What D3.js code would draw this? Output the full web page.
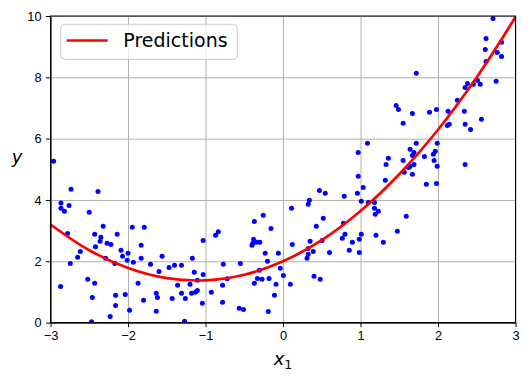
<!DOCTYPE html>
<html>
<head>
<meta charset="utf-8">
<script src="https://cdn.jsdelivr.net/npm/d3@7"></script>
<style>
    body { margin: 0; background: #fff; }
    svg { font-family: "DejaVu Sans", sans-serif; }
    .grid line { stroke: #b0b0b0; stroke-width: 1; }
    .grid .domain { display: none; }
    .axis text { font-size: 12.8px; fill: #000; }
    .axis line, .axis path { stroke: #000; stroke-width: 1; }
</style>
</head>
<body>
<svg id="chart" width="529" height="381"></svg>
<script>
// scatter points
const xData = [
    -2.96, -2.735, -2.387, -2.865, -2.865, -2.82, -2.76, -2.5, -2.78, -2.32, -2.43, -2.35, -2.36, -2.27, -2.22, -2.14,
    -2.42, -2.615, -2.65, -2.745, -2.29, -2.17, -2.09, -2.07, -2.0, -2.01, -1.93, -1.945, -1.79, -1.83, -1.83, -1.71,
    -1.6, -1.56, -1.47, -1.4, -1.31, -1.17, -1.145, -1.03, -1.03, -2.87, -2.52, -2.43, -2.46, -2.47, -2.16, -2.16,
    -2.23, -2.035, -1.98, -1.87, -1.8, -1.635, -1.62, -1.635, -1.43, -1.36, -1.31, -1.26, -1.27, -1.2, -1.18, -1.13,
    -1.105, -1.105, -1.04,
    -0.87, -0.835, -0.77, -0.78, -0.925, -0.78, -0.72, -0.55, -0.565, -0.51, -0.37, -0.255, -0.155, -0.38, -0.4, -0.39,
    -0.34, -0.3, -0.23, -0.06, -0.2, -0.305, -0.33, -0.27, -0.37, -0.18, -0.09, -0.11, -0.19, -0.035, 0.005, 0.095,
    0.11, 0.12, 0.34, 0.325, 0.47, 0.545, 0.52, 0.43, 0.35, 0.325, 0.39, 0.325, 0.31, 0.505, 0.6, 0.4, 0.48, 0.79,
    0.78, 0.8, 0.765, 0.895, 0.855,
    0.97, 1.035, 0.96, 1.01, 1.1, 1.18, 1.18, 1.23, 1.19, 1.32, 1.01, 0.985, 0.985, 1.2, 1.295, 1.475, 1.59, 1.565,
    1.67, 1.85, 1.98,
    2.71, 2.62, 2.82, 2.61, 2.765, 2.82, 2.62, 1.72, 2.75, 2.38, 2.35, 2.455, 2.51, 2.545, 2.25, 1.46, 1.49, 1.67,
    1.89, 1.98, 2.13, 2.34, 1.55, 2.12, 2.145, 2.35, 2.42, 2.56, 1.09, 0.97, 1.36, 1.33, 1.64, 1.72, 1.69, 1.67,
    1.55, 1.64, 1.69, 1.62, 1.825, 1.99, 1.965, 1.94, 1.95, 1.99, 2.35
];
const yData = [
    5.26, 4.35, 4.28, 3.9, 3.73, 3.63, 3.82, 3.6, 2.91, 3.14, 2.88, 2.78, 2.65, 2.59, 2.55, 2.88,
    2.47, 2.32, 2.13, 1.93, 2.1, 1.93, 2.36, 2.16, 2.26, 2.03, 1.97, 3.11, 3.11, 2.52, 2.1, 1.9,
    1.67, 2.16, 1.8, 1.87, 1.87, 2.1, 1.64, 2.68, 1.57, 1.18, 1.41, 1.28, 0.82, 0.03, 0.89, 0.56,
    0.2, 0.92, 0.4, 1.28, 0.73, 0.96, 0.82, 0.37, 0.79, 1.22, 0.96, 0.79, 0.04, 1.25, 0.96, 0.99,
    1.05, 1.38, 0.63,
    2.85, 2.96, 1.9, 1.22, 0.99, 0.66, 1.43, 1.93, 0.47, 0.43, 3.3, 3.5, 3.07, 2.72, 2.52, 2.59,
    2.62, 2.62, 2.26, 2.26, 2.0, 1.71, 1.44, 1.41, 1.28, 1.44, 1.25, 0.89, 0.36, 1.77, 1.54, 1.25,
    3.73, 2.55, 3.99, 3.86, 4.31, 4.22, 3.4, 3.14, 2.65, 2.42, 2.32, 2.23, 2.1, 2.68, 2.29, 1.51, 1.41, 4.12,
    3.24, 2.88, 2.75, 2.62, 2.36,
    4.77, 4.41, 4.22, 3.96, 3.92, 3.92, 3.73, 3.63, 3.53, 4.64, 2.88, 2.72, 2.29, 2.85, 2.62, 2.98, 3.47, 4.9,
    4.84, 4.51, 4.54,
    9.92, 9.27, 9.14, 8.91, 8.81, 8.68, 8.52, 8.13, 7.87, 7.8, 7.67, 7.77, 7.9, 7.77, 7.25, 7.08, 6.95, 6.82,
    6.86, 6.95, 6.89, 6.89, 6.5, 6.43, 6.47, 6.47, 6.3, 6.63, 5.85, 5.55, 5.36, 5.16, 5.65, 5.85, 5.55, 5.45,
    5.29, 5.1, 5.16, 5.06, 5.42, 5.85, 5.59, 5.49, 5.29, 5.1, 5.16
];

// red prediction curve, read at half steps
const curveX = [-3, -2.5, -2, -1.5, -1, -0.5, 0, 0.5, 1, 1.5, 2, 2.5, 3];
const curveY = [3.2, 2.36, 1.78, 1.45, 1.38, 1.56, 2.0, 2.69, 3.64, 4.84, 6.29, 8.0, 9.965];

const xTicks = [-3, -2, -1, 0, 1, 2, 3];
const yTicks = [0, 2, 4, 6, 8, 10];
const legendLabel = 'Predictions';

const WIDTH = 529;
const HEIGHT = 381;
const MARGINS = { top: 16, right: 13.5, bottom: 58.4, left: 50.5 };

const svg = d3.select('#chart');

const xScale = d3.scaleLinear()
    .domain([-3, 3])
    .range([MARGINS.left, WIDTH - MARGINS.right]);
const yScale = d3.scaleLinear()
    .domain([0, 10])
    .range([HEIGHT - MARGINS.bottom, MARGINS.top]);

const plotW = WIDTH - MARGINS.left - MARGINS.right;
const plotH = HEIGHT - MARGINS.top - MARGINS.bottom;
const tickFmt = d3.format('d');

// grid
svg.append('g')
    .attr('class', 'grid')
    .attr('transform', `translate(0, ${HEIGHT - MARGINS.bottom})`)
    .call(d3.axisBottom(xScale).tickValues(xTicks).tickSize(-plotH).tickFormat(''));
svg.append('g')
    .attr('class', 'grid')
    .attr('transform', `translate(${MARGINS.left}, 0)`)
    .call(d3.axisLeft(yScale).tickValues(yTicks).tickSize(-plotW).tickFormat(''));

svg.append('clipPath')
    .attr('id', 'plot-clip')
    .append('rect')
    .attr('x', MARGINS.left)
    .attr('y', MARGINS.top)
    .attr('width', plotW)
    .attr('height', plotH);

// points
const points = xData.map((x, i) => ({ x, y: yData[i] }));
svg.append('g')
    .attr('clip-path', 'url(#plot-clip)')
    .selectAll('circle')
    .data(points)
    .join('circle')
    .attr('cx', (d) => xScale(d.x))
    .attr('cy', (d) => yScale(d.y))
    .attr('r', 2.5)
    .attr('fill', '#0000ff');

// prediction line
const curve = curveX.map((x, i) => ({ x, y: curveY[i] }));
const line = d3.line()
    .x((d) => xScale(d.x))
    .y((d) => yScale(d.y))
    .curve(d3.curveCatmullRom);
svg.append('path')
    .datum(curve)
    .attr('clip-path', 'url(#plot-clip)')
    .attr('d', line)
    .attr('fill', 'none')
    .attr('stroke', '#ff0000')
    .attr('stroke-width', 2.7);

// axes
svg.append('g')
    .attr('class', 'axis')
    .attr('transform', `translate(0, ${HEIGHT - MARGINS.bottom})`)
    .call(d3.axisBottom(xScale).tickValues(xTicks).tickFormat(tickFmt)
        .tickSize(4.6).tickPadding(4).tickSizeOuter(0));
svg.append('g')
    .attr('class', 'axis')
    .attr('transform', `translate(${MARGINS.left}, 0)`)
    .call(d3.axisLeft(yScale).tickValues(yTicks).tickFormat(tickFmt)
        .tickSize(4.6).tickPadding(4.4).tickSizeOuter(0));

// frame
svg.append('rect')
    .attr('x', MARGINS.left)
    .attr('y', MARGINS.top)
    .attr('width', plotW)
    .attr('height', plotH)
    .attr('fill', 'none')
    .attr('stroke', '#000')
    .attr('stroke-width', 1);

// axis labels
const xLabel = svg.append('text')
    .attr('x', xScale(0))
    .attr('y', 365)
    .attr('text-anchor', 'middle')
    .attr('font-size', 18);
xLabel.append('tspan').attr('font-style', 'italic').text('x');
xLabel.append('tspan').attr('font-size', 12.6).attr('dy', 4).text('1');

svg.append('text')
    .attr('x', 17)
    .attr('y', 163)
    .attr('text-anchor', 'middle')
    .attr('font-size', 18)
    .attr('font-style', 'italic')
    .text('y');

// legend
const legend = svg.append('g');
legend.append('rect')
    .attr('x', 60.7)
    .attr('y', 24.3)
    .attr('width', 176.6)
    .attr('height', 35)
    .attr('rx', 4)
    .attr('fill', '#fff')
    .attr('fill-opacity', 0.8)
    .attr('stroke', '#cccccc')
    .attr('stroke-width', 1);
legend.append('line')
    .attr('x1', 66.7)
    .attr('x2', 107.7)
    .attr('y1', 40.5)
    .attr('y2', 40.5)
    .attr('stroke', '#ff0000')
    .attr('stroke-width', 2.7);
legend.append('text')
    .attr('x', 123.3)
    .attr('y', 47.3)
    .attr('font-size', 19)
    .text(legendLabel);
</script>
</body>
</html>
